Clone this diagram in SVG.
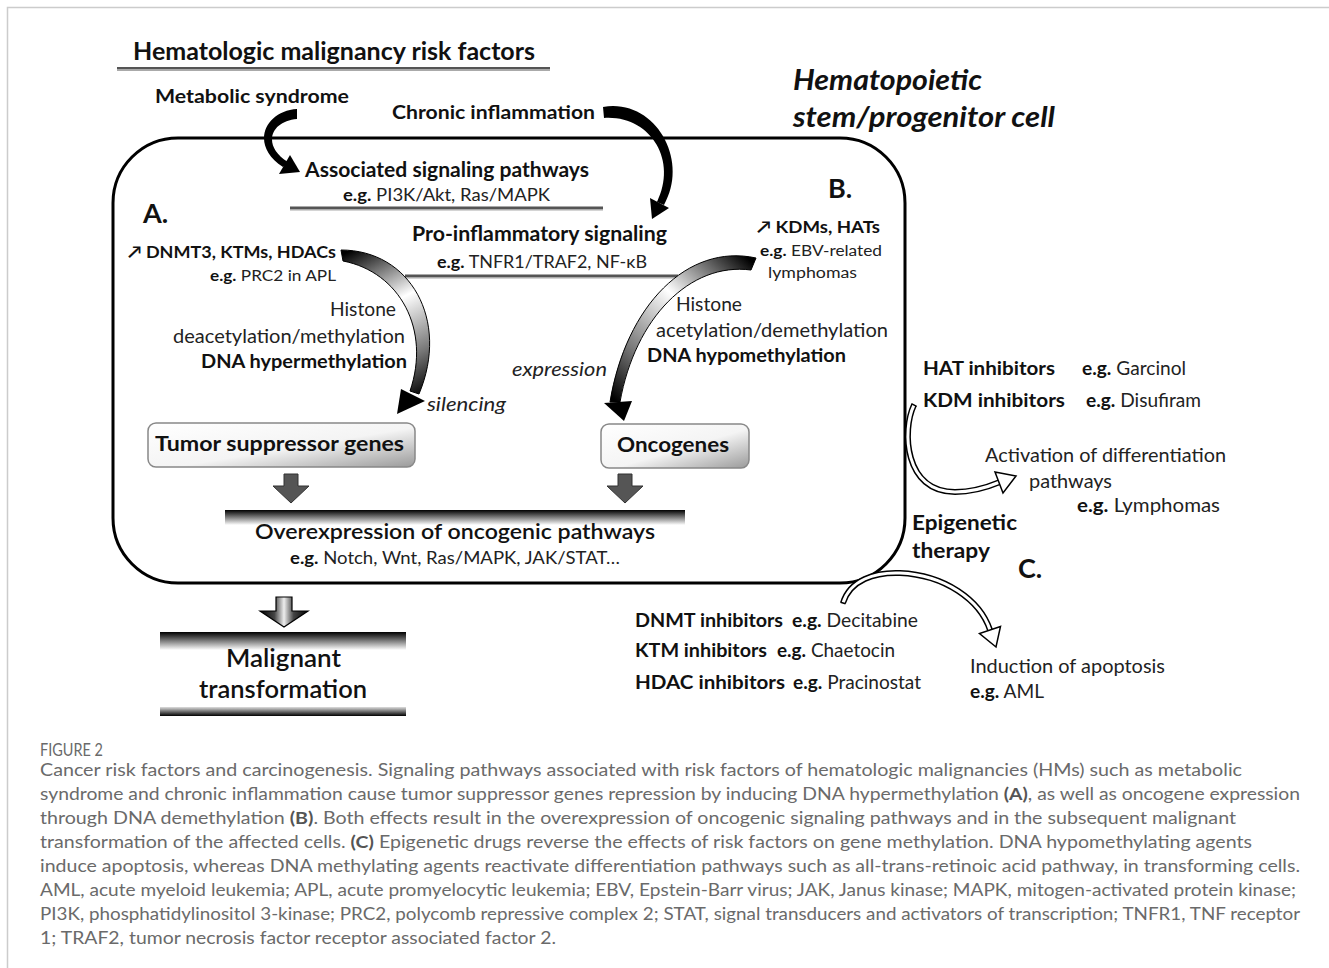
<svg xmlns="http://www.w3.org/2000/svg" width="1329" height="968" viewBox="0 0 1329 968">
<defs>
<style>
text{font-family:Lato,"Open Sans","DejaVu Sans",sans-serif;}
.b{font-weight:bold;fill:#111}
.r{font-weight:normal;fill:#222}
.m{font-weight:600;fill:#111}
.i{font-style:italic;font-weight:normal;fill:#222}
.cap{font-weight:400;fill:#6a6a6a;font-size:17.5px}
.cb{font-weight:bold;fill:#555}
.blk{fill:#000}
.garrow{fill:#555;stroke:#333;stroke-width:1}
.open{fill:none;stroke:#000;stroke-width:6}
.openin{fill:none;stroke:#fff;stroke-width:3}
.head{fill:#fff;stroke:#000;stroke-width:1.5;stroke-linejoin:miter}
</style>
<linearGradient id="gBox" x1="0" y1="0" x2="1" y2="1">
<stop offset="0" stop-color="#fff"/><stop offset="0.55" stop-color="#f4f4f4"/><stop offset="1" stop-color="#9a9a9a"/>
</linearGradient>
<linearGradient id="gDown" x1="0" y1="0" x2="0" y2="1">
<stop offset="0" stop-color="#000"/><stop offset="1" stop-color="#fff"/>
</linearGradient>
<linearGradient id="gUp" x1="0" y1="0" x2="0" y2="1">
<stop offset="0" stop-color="#ddd"/><stop offset="1" stop-color="#000"/>
</linearGradient>
<linearGradient id="gH" x1="0" y1="0" x2="1" y2="0">
<stop offset="0" stop-color="#000"/><stop offset="0.3" stop-color="#444"/><stop offset="0.5" stop-color="#eee"/><stop offset="0.7" stop-color="#444"/><stop offset="1" stop-color="#000"/>
</linearGradient>
<linearGradient id="gA" gradientUnits="userSpaceOnUse" x1="342" y1="255" x2="415" y2="400">
<stop offset="0" stop-color="#000"/><stop offset="0.4" stop-color="#fff"/><stop offset="0.75" stop-color="#777"/><stop offset="1" stop-color="#000"/>
</linearGradient>
<linearGradient id="gB" gradientUnits="userSpaceOnUse" x1="752" y1="262" x2="620" y2="405">
<stop offset="0" stop-color="#000"/><stop offset="0.4" stop-color="#fff"/><stop offset="0.75" stop-color="#777"/><stop offset="1" stop-color="#000"/>
</linearGradient>
</defs>

<rect width="1329" height="968" fill="#fff"/>
<!-- page frame -->
<path d="M7.5 968 V7.5 H1329" fill="none" stroke="#ccc" stroke-width="1.5"/>

<!-- cell box -->
<g id="cell">
<rect x="113" y="138" width="792" height="445" rx="65" fill="none" stroke="#000" stroke-width="3"/>
<text class="b" x="793" y="90" font-size="28" font-style="italic" textLength="189" lengthAdjust="spacingAndGlyphs">Hematopoietic</text>
<text class="b" x="793" y="127" font-size="28" font-style="italic" textLength="262" lengthAdjust="spacingAndGlyphs">stem/progenitor cell</text>
</g>

<g id="title">
<text class="b" x="133" y="60" font-size="25" textLength="402" lengthAdjust="spacingAndGlyphs">Hematologic malignancy risk factors</text>
<rect x="117" y="67" width="433" height="2.5" fill="#555"/>
<rect x="117" y="69.5" width="433" height="1.5" fill="#aaa"/>
</g>

<g id="metabolic">
<text class="b" x="155" y="103" font-size="19.5" textLength="194" lengthAdjust="spacingAndGlyphs">Metabolic syndrome</text>
</g>
<g id="chronic">
<text class="b" x="392" y="119" font-size="19.5" textLength="203" lengthAdjust="spacingAndGlyphs">Chronic inflammation</text>
</g>

<g id="associated">
<text class="b" x="305" y="177" font-size="20" textLength="284" lengthAdjust="spacingAndGlyphs">Associated signaling pathways</text>
<text class="r" x="343" y="201" font-size="17" textLength="207" lengthAdjust="spacingAndGlyphs"><tspan class="b">e.g.</tspan> PI3K/Akt, Ras/MAPK</text>
<rect x="290" y="206.5" width="313" height="2.5" fill="#555"/>
<rect x="290" y="209" width="313" height="1.5" fill="#aaa"/>
</g>

<g id="proinflammatory">
<text class="b" x="412" y="241" font-size="20" textLength="255" lengthAdjust="spacingAndGlyphs">Pro-inflammatory signaling</text>
<text class="r" x="437" y="268" font-size="17" textLength="210" lengthAdjust="spacingAndGlyphs"><tspan class="b">e.g.</tspan> TNFR1/TRAF2, NF-κB</text>
<rect x="405" y="274.5" width="273" height="2.5" fill="#555"/>
<rect x="405" y="277" width="273" height="1.5" fill="#aaa"/>
</g>

<g id="labelA">
<text class="b" x="143" y="223" font-size="27">A.</text>
<text class="b" x="128" y="258" font-size="17" textLength="208" lengthAdjust="spacingAndGlyphs">↗ DNMT3, KTMs, HDACs</text>
<text class="r" x="210" y="281" font-size="15" textLength="126" lengthAdjust="spacingAndGlyphs"><tspan class="b">e.g.</tspan>  PRC2 in APL</text>
<text class="r" x="330" y="316" font-size="19" textLength="66" lengthAdjust="spacingAndGlyphs">Histone</text>
<text class="r" x="173" y="343" font-size="19" textLength="232" lengthAdjust="spacingAndGlyphs">deacetylation/methylation</text>
<text class="b" x="201" y="368" font-size="19" textLength="206" lengthAdjust="spacingAndGlyphs">DNA hypermethylation</text>
<text class="i" x="427" y="411" font-size="19" textLength="79" lengthAdjust="spacingAndGlyphs">silencing</text>
</g>

<g id="labelB">
<text class="b" x="828" y="198" font-size="27">B.</text>
<text class="b" x="757" y="233" font-size="17" textLength="123" lengthAdjust="spacingAndGlyphs">↗ KDMs,  HATs</text>
<text class="r" x="760" y="256" font-size="15.5" textLength="122" lengthAdjust="spacingAndGlyphs"><tspan class="b">e.g.</tspan> EBV-related</text>
<text class="r" x="768" y="278" font-size="15.5" textLength="89" lengthAdjust="spacingAndGlyphs">lymphomas</text>
<text class="r" x="676" y="311" font-size="19" textLength="66" lengthAdjust="spacingAndGlyphs">Histone</text>
<text class="r" x="656" y="337" font-size="19" textLength="232" lengthAdjust="spacingAndGlyphs">acetylation/demethylation</text>
<text class="b" x="647" y="362" font-size="19" textLength="199" lengthAdjust="spacingAndGlyphs">DNA hypomethylation</text>
<text class="i" x="512" y="376" font-size="19" textLength="95" lengthAdjust="spacingAndGlyphs">expression</text>
</g>

<g id="tumor">
<rect x="148" y="423" width="267" height="44" rx="8" fill="url(#gBox)" stroke="#888" stroke-width="1.5"/>
<text class="b" x="155" y="451" font-size="21" textLength="249" lengthAdjust="spacingAndGlyphs">Tumor suppressor genes</text>
</g>

<g id="oncogenes">
<rect x="601" y="424" width="148" height="44" rx="8" fill="url(#gBox)" stroke="#888" stroke-width="1.5"/>
<text class="b" x="617" y="452" font-size="21" textLength="112" lengthAdjust="spacingAndGlyphs">Oncogenes</text>
</g>

<g id="overexpression">
<rect x="225" y="510" width="460" height="15" fill="url(#gDown)"/>
<text class="m" x="255" y="539" font-size="21" textLength="400" lengthAdjust="spacingAndGlyphs">Overexpression of oncogenic pathways</text>
<text class="r" x="290" y="564" font-size="17" textLength="330" lengthAdjust="spacingAndGlyphs"><tspan class="b">e.g.</tspan> Notch, Wnt, Ras/MAPK, JAK/STAT…</text>
</g>

<g id="malignant">
<rect x="160" y="632" width="246" height="18" fill="url(#gDown)"/>
<text class="m" x="226" y="667" font-size="24" textLength="115" lengthAdjust="spacingAndGlyphs">Malignant</text>
<text class="m" x="199" y="698" font-size="24" textLength="168" lengthAdjust="spacingAndGlyphs">transformation</text>
<rect x="160" y="707" width="246" height="9" fill="url(#gUp)"/>
</g>

<g id="therapyTop">
<text class="b" x="923" y="375" font-size="19.5" textLength="132" lengthAdjust="spacingAndGlyphs">HAT inhibitors</text>
<text class="r" x="1082" y="375" font-size="19.5" textLength="104" lengthAdjust="spacingAndGlyphs"><tspan class="b">e.g.</tspan> Garcinol</text>
<text class="b" x="923" y="407" font-size="19.5" textLength="142" lengthAdjust="spacingAndGlyphs">KDM inhibitors</text>
<text class="r" x="1086" y="407" font-size="19.5" textLength="115" lengthAdjust="spacingAndGlyphs"><tspan class="b">e.g.</tspan> Disufiram</text>
</g>

<g id="differentiation">
<text class="r" x="985" y="462" font-size="19" textLength="241" lengthAdjust="spacingAndGlyphs">Activation of differentiation</text>
<text class="r" x="1029" y="488" font-size="19" textLength="83" lengthAdjust="spacingAndGlyphs">pathways</text>
<text class="r" x="1077" y="512" font-size="19" textLength="143" lengthAdjust="spacingAndGlyphs"><tspan class="b">e.g.</tspan>  Lymphomas</text>
</g>

<g id="epigenetic">
<text class="b" x="912" y="530" font-size="21" textLength="105" lengthAdjust="spacingAndGlyphs">Epigenetic</text>
<text class="b" x="912" y="558" font-size="21" textLength="78" lengthAdjust="spacingAndGlyphs">therapy</text>
<text class="b" x="1018" y="578" font-size="27">C.</text>
</g>

<g id="therapyBottom">
<text class="b" x="635" y="627" font-size="19" textLength="148" lengthAdjust="spacingAndGlyphs">DNMT inhibitors</text>
<text class="r" x="792" y="627" font-size="19" textLength="126" lengthAdjust="spacingAndGlyphs"><tspan class="b">e.g.</tspan> Decitabine</text>
<text class="b" x="635" y="657" font-size="19" textLength="132" lengthAdjust="spacingAndGlyphs">KTM inhibitors</text>
<text class="r" x="777" y="657" font-size="19" textLength="118" lengthAdjust="spacingAndGlyphs"><tspan class="b">e.g.</tspan> Chaetocin</text>
<text class="b" x="635" y="689" font-size="19" textLength="150" lengthAdjust="spacingAndGlyphs">HDAC  inhibitors</text>
<text class="r" x="793" y="689" font-size="19" textLength="128" lengthAdjust="spacingAndGlyphs"><tspan class="b">e.g.</tspan> Pracinostat</text>
</g>

<g id="apoptosis">
<text class="r" x="970" y="673" font-size="19" textLength="195" lengthAdjust="spacingAndGlyphs">Induction of apoptosis</text>
<text class="r" x="970" y="698" font-size="19" textLength="74" lengthAdjust="spacingAndGlyphs"><tspan class="b">e.g.</tspan> AML</text>
</g>

<g id="connectors">
<!-- metabolic syndrome -> associated -->
<path class="blk" d="M297 109 C265 111 249 145 283 167 L288 162 C261 145 271 121 297 119 Z"/>
<polygon class="blk" points="279,174 290,155 300,172"/>
<!-- chronic inflammation -> pro-inflammatory -->
<path class="blk" d="M603 107 C655 98 690 160 664 205 L657 202 C678 160 650 115 604 118 Z"/>
<polygon class="blk" points="669,208 650,198 652,219"/>
<!-- A arrow -->
<path d="M341 250 C410 250 450 320 419 394 L410 391 C431 330 400 272 343 261 Z" fill="url(#gA)" stroke="#000" stroke-width="1"/>
<polygon class="blk" points="401,389 425,401 397,414"/>
<!-- B arrow -->
<path d="M756 258 C688 243 626 305 610 402 L620 402 C635 318 690 262 751 270 Z" fill="url(#gB)" stroke="#000" stroke-width="1"/>
<polygon class="blk" points="604,403 632,401 624,421"/>
<!-- block arrows -->
<polygon class="garrow" points="284,474 298,474 298,486 309,486 291,503 273,486 284,486"/>
<polygon class="garrow" points="618,474 632,474 632,486 643,486 625,503 607,486 618,486"/>
<!-- to malignant transformation -->
<polygon points="276,597 292,597 292,611 308,611 284,627 260,611 276,611" fill="url(#gH)" stroke="#000" stroke-width="1.2"/>
<!-- epigenetic therapy -> differentiation -->
<path class="open" d="M914 405 C902 430 904 492 955 492 C972 492 988 487 1000 482"/>
<path class="openin" d="M914 405 C902 430 904 492 955 492 C972 492 988 487 1000 482"/>
<line x1="911.4" y1="403.6" x2="916.6" y2="406.4" stroke="#000" stroke-width="1.5"/>
<polygon class="head" points="1003,493 995,472 1016,476"/>
<!-- epigenetic therapy -> apoptosis -->
<path class="open" d="M843 603 C850 580 875 572 900 573 C945 575 980 600 990 630"/>
<path class="openin" d="M843 603 C850 580 875 572 900 573 C945 575 980 600 990 630"/>
<line x1="840.5" y1="602.3" x2="845.5" y2="603.7" stroke="#000" stroke-width="1.5"/>
<polygon class="head" points="1000.5,626.5 979.5,633.5 996,647"/>
</g>

<g id="caption">
<text class="cap" x="40" y="756" font-size="13.5" textLength="63" lengthAdjust="spacingAndGlyphs">FIGURE 2</text>
<text class="cap" x="40" y="776" textLength="1202" lengthAdjust="spacingAndGlyphs">Cancer risk factors and carcinogenesis. Signaling pathways associated with risk factors of hematologic malignancies (HMs) such as metabolic</text>
<text class="cap" x="40" y="800" textLength="1260" lengthAdjust="spacingAndGlyphs">syndrome and chronic inflammation cause tumor suppressor genes repression by inducing DNA hypermethylation <tspan class="cb">(A)</tspan>, as well as oncogene expression</text>
<text class="cap" x="40" y="824" textLength="1196" lengthAdjust="spacingAndGlyphs">through DNA demethylation <tspan class="cb">(B)</tspan>. Both effects result in the overexpression of oncogenic signaling pathways and in the subsequent malignant</text>
<text class="cap" x="40" y="848" textLength="1212" lengthAdjust="spacingAndGlyphs">transformation of the affected cells. <tspan class="cb">(C)</tspan> Epigenetic drugs reverse the effects of risk factors on gene methylation. DNA hypomethylating agents</text>
<text class="cap" x="40" y="872" textLength="1260" lengthAdjust="spacingAndGlyphs">induce apoptosis, whereas DNA methylating agents reactivate differentiation pathways such as all-trans-retinoic acid pathway, in transforming cells.</text>
<text class="cap" x="40" y="896" textLength="1256" lengthAdjust="spacingAndGlyphs">AML, acute myeloid leukemia; APL, acute promyelocytic leukemia; EBV, Epstein-Barr virus; JAK, Janus kinase; MAPK, mitogen-activated protein kinase;</text>
<text class="cap" x="40" y="920" textLength="1260" lengthAdjust="spacingAndGlyphs">PI3K, phosphatidylinositol 3-kinase; PRC2, polycomb repressive complex 2; STAT, signal transducers and activators of transcription; TNFR1, TNF receptor</text>
<text class="cap" x="40" y="944" textLength="516" lengthAdjust="spacingAndGlyphs">1; TRAF2, tumor necrosis factor receptor associated factor 2.</text>
</g>
</svg>
